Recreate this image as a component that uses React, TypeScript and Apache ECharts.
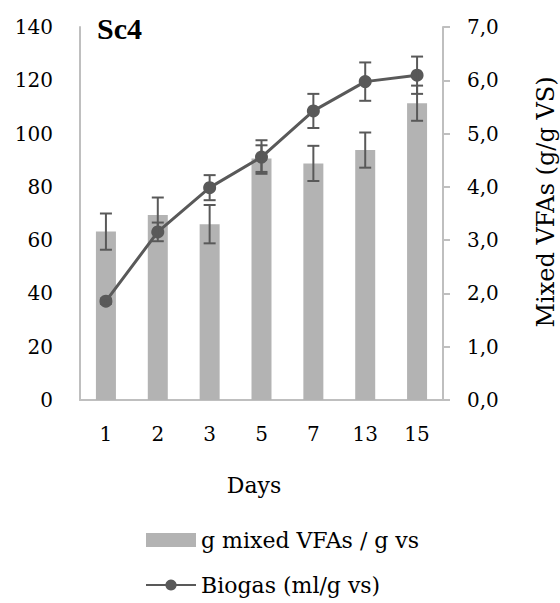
import React, { useEffect, useRef } from "react";
import * as echarts from "echarts";

const days = ["1", "2", "3", "5", "7", "13", "15"];
const vfa = [3.16, 3.47, 3.3, 4.53, 4.44, 4.69, 5.57];
const vfaErr = [0.34, 0.33, 0.36, 0.25, 0.33, 0.33, 0.33];
const biogas = [37.1, 63.1, 79.7, 91.2, 108.5, 119.5, 121.9];
const biogasErr = [1.0, 3.5, 4.7, 6.3, 6.4, 7.2, 7.0];
const leftTicks = { min: 0, max: 140, interval: 20 };
const rightTicks = { min: 0, max: 7, interval: 1 };

const FONT = "DejaVu Serif";
const BAR_COLOR = "#b3b3b3";
const LINE_COLOR = "#595959";
const AXIS_COLOR = "#bfbfbf";

function errorRender(params: any, api: any) {
  const idx = api.value(0);
  const lo = api.coord([idx, api.value(1)]);
  const hi = api.coord([idx, api.value(2)]);
  const half = 6;
  const style = { stroke: LINE_COLOR, lineWidth: 2, fill: "none" };
  return {
    type: "group",
    children: [
      { type: "line", shape: { x1: lo[0], y1: lo[1], x2: hi[0], y2: hi[1] }, style },
      { type: "line", shape: { x1: lo[0] - half, y1: lo[1], x2: lo[0] + half, y2: lo[1] }, style },
      { type: "line", shape: { x1: hi[0] - half, y1: hi[1], x2: hi[0] + half, y2: hi[1] }, style },
    ],
  };
}

export default function App() {
  const ref = useRef<HTMLDivElement>(null);
  useEffect(() => {
    if (!ref.current) return;
    const chart = echarts.init(ref.current, null, { renderer: "svg" });
    const vfaErrData = vfa.map((v, i) => [i, v - vfaErr[i], v + vfaErr[i]]);
    const bioErrData = biogas.map((v, i) => [i, v - biogasErr[i], v + biogasErr[i]]);
    chart.setOption({
      animation: false,
      textStyle: { fontFamily: FONT },
      title: {
        text: "Sc4",
        left: 97,
        top: 13,
        padding: 0,
        textStyle: {
          fontFamily: "Liberation Serif",
          fontWeight: "bold",
          fontSize: 30,
          color: "#000",
          lineHeight: 30,
        },
      },
      grid: { left: 80, right: 117, top: 27, bottom: 203 },
      legend: {
        orient: "vertical",
        left: 145,
        top: 528,
        padding: 0,
        height: 75,
        itemWidth: 50,
        itemHeight: 14,
        itemGap: 21,
        textStyle: { fontFamily: FONT, fontSize: 22, color: "#000", lineHeight: 24 },
        data: [
          { name: "g mixed VFAs / g vs", icon: "rect" },
          { name: "Biogas (ml/g vs)" },
        ],
      },
      xAxis: {
        type: "category",
        data: days,
        axisLine: { show: true, lineStyle: { color: AXIS_COLOR, width: 2 } },
        axisTick: { show: false },
        axisLabel: { fontFamily: FONT, fontSize: 20, color: "#000", margin: 24 },
      },
      yAxis: [
        {
          type: "value",
          ...leftTicks,
          position: "left",
          axisLine: { show: true, lineStyle: { color: AXIS_COLOR, width: 2 } },
          axisTick: { show: false },
          splitLine: { show: false },
          axisLabel: { fontFamily: FONT, fontSize: 20, color: "#000", margin: 27 },
        },
        {
          type: "value",
          ...rightTicks,
          position: "right",
          axisLine: { show: true, lineStyle: { color: AXIS_COLOR, width: 2 } },
          axisTick: { show: true, length: 7, lineStyle: { color: AXIS_COLOR, width: 2 } },
          splitLine: { show: false },
          axisLabel: {
            fontFamily: FONT,
            fontSize: 20,
            color: "#000",
            margin: 24,
            formatter: (v: number) => v.toFixed(1).replace(".", ","),
          },
        },
      ],
      series: [
        {
          name: "g mixed VFAs / g vs",
          type: "bar",
          yAxisIndex: 1,
          data: vfa,
          barWidth: 20,
          itemStyle: { color: BAR_COLOR },
          z: 1,
        },
        {
          name: "vfaErr",
          type: "custom",
          yAxisIndex: 1,
          data: vfaErrData,
          renderItem: errorRender,
          z: 2,
        },
        {
          name: "Biogas (ml/g vs)",
          type: "line",
          yAxisIndex: 0,
          data: biogas,
          symbol: "circle",
          symbolSize: 13,
          lineStyle: { color: LINE_COLOR, width: 3 },
          itemStyle: { color: LINE_COLOR },
          z: 4,
        },
        {
          name: "bioErr",
          type: "custom",
          yAxisIndex: 0,
          data: bioErrData,
          renderItem: errorRender,
          z: 5,
        },
      ],
      graphic: [
        {
          type: "text",
          x: 254,
          y: 485,
          style: {
            text: "Days",
            fontFamily: FONT,
            fontSize: 22,
            fill: "#000",
            textAlign: "center",
            textVerticalAlign: "middle",
          },
        },
        {
          type: "text",
          x: 546,
          y: 202,
          rotation: Math.PI / 2,
          style: {
            text: "Mixed VFAs (g/g VS)",
            fontFamily: FONT,
            fontSize: 24,
            fill: "#000",
            textAlign: "center",
            textVerticalAlign: "middle",
          },
        },
      ],
    });
    return () => chart.dispose();
  }, []);
  return (
    <div
      ref={ref}
      style={{ position: "fixed", left: 0, top: 0, width: 560, height: 603, background: "#fff" }}
    />
  );
}
